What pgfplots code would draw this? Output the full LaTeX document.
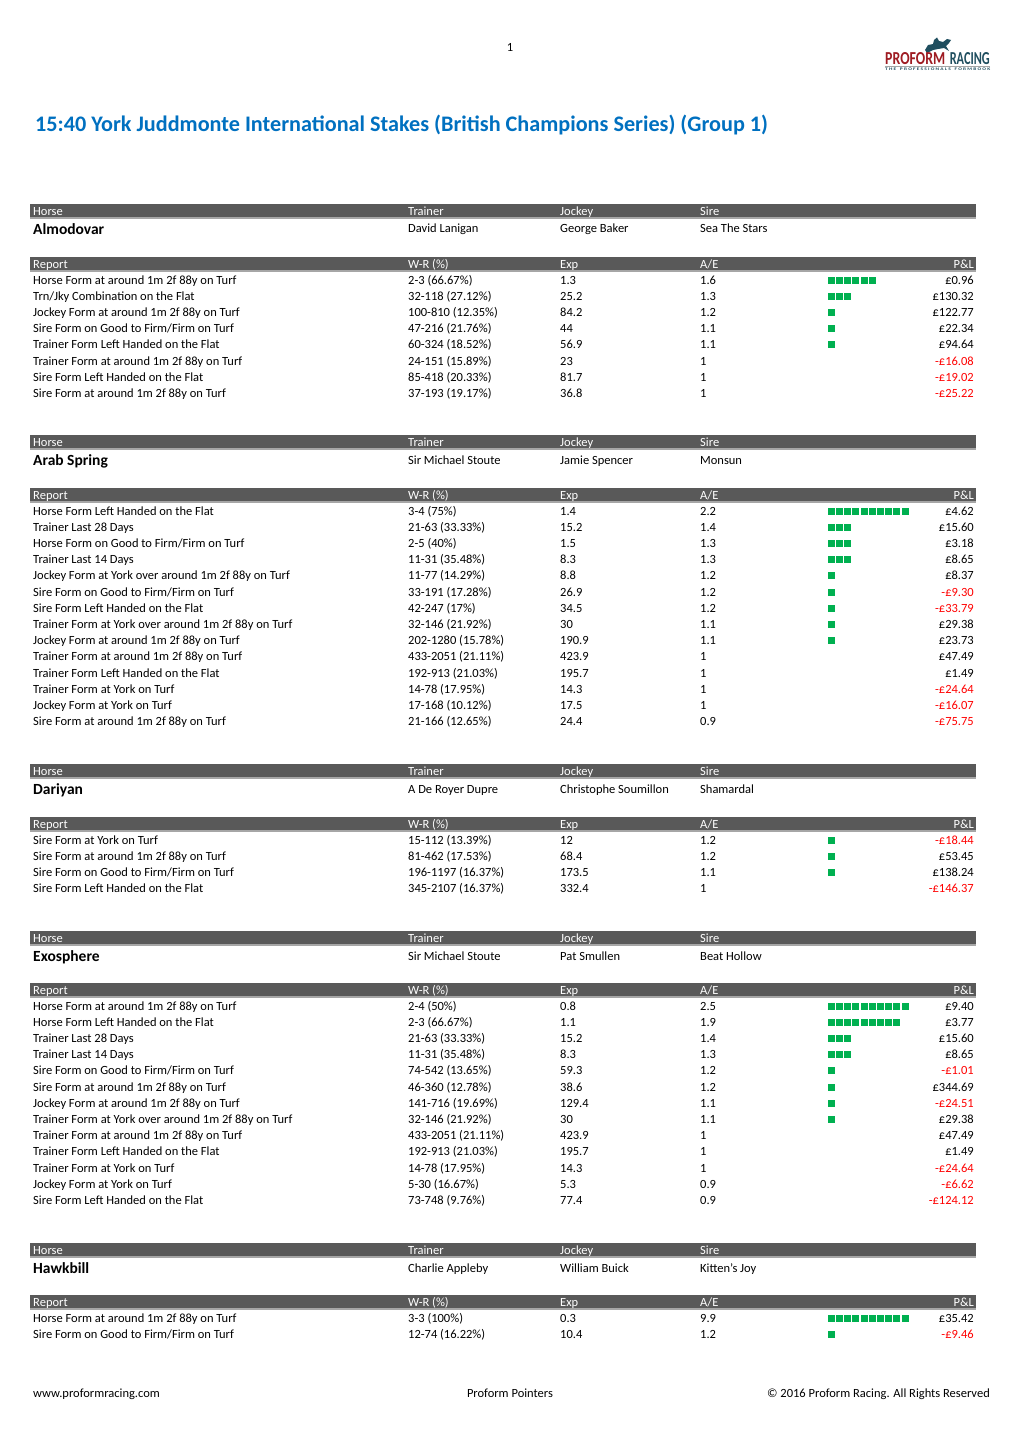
\documentclass[border=0pt]{standalone}
\usepackage{pgfplots}
\pgfplotsset{compat=1.18}
\usepackage{pgfplotstable}
\usepackage{fontspec}
\setmainfont{Carlito}
\definecolor{hdr}{HTML}{595959}
\definecolor{hline}{HTML}{A6A6A6}
\definecolor{grn}{HTML}{00B050}
\definecolor{neg}{HTML}{FF0000}
\definecolor{ttl}{HTML}{0070C0}
\definecolor{pfred}{HTML}{9E1B22}
\definecolor{pfteal}{HTML}{1F4E5F}
\newcommand{\fs}{\fontsize{12.5}{14}\selectfont}

% green squares of the A/E column: k = position in the row, y = row
\pgfplotstableread[row sep=\\]{
k y\\
1 280\\ 2 280\\ 3 280\\ 4 280\\ 5 280\\ 6 280\\
1 296.2\\ 2 296.2\\ 3 296.2\\
1 312.4\\ 1 328.6\\ 1 344.8\\
1 511\\ 2 511\\ 3 511\\ 4 511\\ 5 511\\ 6 511\\ 7 511\\ 8 511\\ 9 511\\ 10 511\\
1 527.2\\ 2 527.2\\ 3 527.2\\
1 543.4\\ 2 543.4\\ 3 543.4\\
1 559.6\\ 2 559.6\\ 3 559.6\\
1 575.8\\ 1 592\\ 1 608.2\\ 1 624.4\\ 1 640.6\\
1 840\\ 1 856.2\\ 1 872.4\\
1 1006\\ 2 1006\\ 3 1006\\ 4 1006\\ 5 1006\\ 6 1006\\ 7 1006\\ 8 1006\\ 9 1006\\ 10 1006\\
1 1022.2\\ 2 1022.2\\ 3 1022.2\\ 4 1022.2\\ 5 1022.2\\ 6 1022.2\\ 7 1022.2\\ 8 1022.2\\ 9 1022.2\\
1 1038.4\\ 2 1038.4\\ 3 1038.4\\
1 1054.6\\ 2 1054.6\\ 3 1054.6\\
1 1070.8\\ 1 1087\\ 1 1103.2\\ 1 1119.4\\
1 1318\\ 2 1318\\ 3 1318\\ 4 1318\\ 5 1318\\ 6 1318\\ 7 1318\\ 8 1318\\ 9 1318\\ 10 1318\\
1 1334.2\\
}\squares

% y, report, W-R, Exp, A/E, P&L, colour
\newcommand{\rw}[7]{%
  \node[txt] at (axis cs:33,#1) {#2};
  \node[txt] at (axis cs:408,#1) {#3};
  \node[txt] at (axis cs:560,#1) {#4};
  \node[txt] at (axis cs:700,#1) {#5};
  \node[txtr,text=#7] at (axis cs:974,#1) {#6};
}
% header bar at y
\newcommand{\hdrbar}[1]{%
  \fill[hdr] (axis cs:30,#1-7) rectangle (axis cs:976,#1+7);
  \draw[hline,line width=1.2pt] (axis cs:30,#1+7) -- (axis cs:976,#1+7);
}
% horse block: bar y, name, trainer, jockey, sire
\newcommand{\horse}[5]{%
  \hdrbar{#1}
  \node[htxt] at (axis cs:33,#1) {Horse};
  \node[htxt] at (axis cs:408,#1) {Trainer};
  \node[htxt] at (axis cs:560,#1) {Jockey};
  \node[htxt] at (axis cs:700,#1) {Sire};
  \node[name] at (axis cs:33,#1+18) {#2};
  \node[txt] at (axis cs:408,#1+18) {#3};
  \node[txt] at (axis cs:560,#1+18) {#4};
  \node[txt] at (axis cs:700,#1+18) {#5};
}
\newcommand{\report}[1]{%
  \hdrbar{#1}
  \node[htxt] at (axis cs:33,#1) {Report};
  \node[htxt] at (axis cs:408,#1) {W-R (\%)};
  \node[htxt] at (axis cs:560,#1) {Exp};
  \node[htxt] at (axis cs:700,#1) {A/E};
  \node[htxt,anchor=base east] at (axis cs:974,#1) {P\&L};
}

\begin{document}
\begin{tikzpicture}[
  txt/.style={anchor=base west, inner sep=0pt, yshift=-4pt, font=\fs},
  txtr/.style={txt, anchor=base east},
  htxt/.style={txt, text=white},
  name/.style={anchor=base west, inner sep=0pt, yshift=-5pt, font=\fontsize{15.5}{17}\selectfont\bfseries},
]
\begin{axis}[
  scale only axis, width=1020pt, height=1442pt,
  xmin=0, xmax=1020, ymin=0, ymax=1442, y dir=reverse,
  hide axis, clip=false,
]
\path (axis cs:0,0) rectangle (axis cs:1020,1442);

% page number and logo
\node[txt,anchor=base] at (axis cs:510,48) {1};
\fill[pfteal] (axis cs:925,50) -- (axis cs:928,45) -- (axis cs:933,44) -- (axis cs:934,40)
  -- (axis cs:937,37.5) -- (axis cs:939,41) -- (axis cs:943,42) -- (axis cs:947,39)
  -- (axis cs:951,40) -- (axis cs:949,43) -- (axis cs:946,46) -- (axis cs:949,51)
  -- (axis cs:944,48) -- (axis cs:938,49) -- (axis cs:933,50) -- (axis cs:927,53) -- cycle;
\node[anchor=south west,inner sep=0pt,text=pfred] at (axis cs:885,64.5) {\resizebox{60pt}{12pt}{\bfseries PROFORM}};
\node[anchor=south east,inner sep=0pt,text=pfteal] at (axis cs:990,64.5) {\resizebox{40pt}{12pt}{\bfseries RACING}};
\draw[hline,line width=0.6pt] (axis cs:885,66.5) -- (axis cs:990,66.5);
\node[anchor=north west,inner sep=0pt,text=pfteal] at (axis cs:885,68) {\resizebox{105pt}{2.6pt}{\bfseries T H E \ \ P R O F E S S I O N A L S \ \ F O R M B O O K}};

% title
\node[anchor=base west,inner sep=0pt,text=ttl,font=\fontsize{22.2}{26}\selectfont\bfseries] at (axis cs:35,132)
  {15:40 York Juddmonte International Stakes (British Champions Series) (Group 1)};

% Almodovar
\horse{211}{Almodovar}{David Lanigan}{George Baker}{Sea The Stars}
\report{264}
\rw{280}{Horse Form at around 1m 2f 88y on Turf}{2-3 (66.67\%)}{1.3}{1.6}{£0.96}{black}
\rw{296.2}{Trn/Jky Combination on the Flat}{32-118 (27.12\%)}{25.2}{1.3}{£130.32}{black}
\rw{312.4}{Jockey Form at around 1m 2f 88y on Turf}{100-810 (12.35\%)}{84.2}{1.2}{£122.77}{black}
\rw{328.6}{Sire Form on Good to Firm/Firm on Turf}{47-216 (21.76\%)}{44}{1.1}{£22.34}{black}
\rw{344.8}{Trainer Form Left Handed on the Flat}{60-324 (18.52\%)}{56.9}{1.1}{£94.64}{black}
\rw{361}{Trainer Form at around 1m 2f 88y on Turf}{24-151 (15.89\%)}{23}{1}{-£16.08}{neg}
\rw{377.2}{Sire Form Left Handed on the Flat}{85-418 (20.33\%)}{81.7}{1}{-£19.02}{neg}
\rw{393.4}{Sire Form at around 1m 2f 88y on Turf}{37-193 (19.17\%)}{36.8}{1}{-£25.22}{neg}

% Arab Spring
\horse{442}{Arab Spring}{Sir Michael Stoute}{Jamie Spencer}{Monsun}
\report{495}
\rw{511}{Horse Form Left Handed on the Flat}{3-4 (75\%)}{1.4}{2.2}{£4.62}{black}
\rw{527.2}{Trainer Last 28 Days}{21-63 (33.33\%)}{15.2}{1.4}{£15.60}{black}
\rw{543.4}{Horse Form on Good to Firm/Firm on Turf}{2-5 (40\%)}{1.5}{1.3}{£3.18}{black}
\rw{559.6}{Trainer Last 14 Days}{11-31 (35.48\%)}{8.3}{1.3}{£8.65}{black}
\rw{575.8}{Jockey Form at York over around 1m 2f 88y on Turf}{11-77 (14.29\%)}{8.8}{1.2}{£8.37}{black}
\rw{592}{Sire Form on Good to Firm/Firm on Turf}{33-191 (17.28\%)}{26.9}{1.2}{-£9.30}{neg}
\rw{608.2}{Sire Form Left Handed on the Flat}{42-247 (17\%)}{34.5}{1.2}{-£33.79}{neg}
\rw{624.4}{Trainer Form at York over around 1m 2f 88y on Turf}{32-146 (21.92\%)}{30}{1.1}{£29.38}{black}
\rw{640.6}{Jockey Form at around 1m 2f 88y on Turf}{202-1280 (15.78\%)}{190.9}{1.1}{£23.73}{black}
\rw{656.8}{Trainer Form at around 1m 2f 88y on Turf}{433-2051 (21.11\%)}{423.9}{1}{£47.49}{black}
\rw{673}{Trainer Form Left Handed on the Flat}{192-913 (21.03\%)}{195.7}{1}{£1.49}{black}
\rw{689.2}{Trainer Form at York on Turf}{14-78 (17.95\%)}{14.3}{1}{-£24.64}{neg}
\rw{705.4}{Jockey Form at York on Turf}{17-168 (10.12\%)}{17.5}{1}{-£16.07}{neg}
\rw{721.6}{Sire Form at around 1m 2f 88y on Turf}{21-166 (12.65\%)}{24.4}{0.9}{-£75.75}{neg}

% Dariyan
\horse{771}{Dariyan}{A De Royer Dupre}{Christophe Soumillon}{Shamardal}
\report{824}
\rw{840}{Sire Form at York on Turf}{15-112 (13.39\%)}{12}{1.2}{-£18.44}{neg}
\rw{856.2}{Sire Form at around 1m 2f 88y on Turf}{81-462 (17.53\%)}{68.4}{1.2}{£53.45}{black}
\rw{872.4}{Sire Form on Good to Firm/Firm on Turf}{196-1197 (16.37\%)}{173.5}{1.1}{£138.24}{black}
\rw{888.6}{Sire Form Left Handed on the Flat}{345-2107 (16.37\%)}{332.4}{1}{-£146.37}{neg}

% Exosphere
\horse{938}{Exosphere}{Sir Michael Stoute}{Pat Smullen}{Beat Hollow}
\report{990}
\rw{1006}{Horse Form at around 1m 2f 88y on Turf}{2-4 (50\%)}{0.8}{2.5}{£9.40}{black}
\rw{1022.2}{Horse Form Left Handed on the Flat}{2-3 (66.67\%)}{1.1}{1.9}{£3.77}{black}
\rw{1038.4}{Trainer Last 28 Days}{21-63 (33.33\%)}{15.2}{1.4}{£15.60}{black}
\rw{1054.6}{Trainer Last 14 Days}{11-31 (35.48\%)}{8.3}{1.3}{£8.65}{black}
\rw{1070.8}{Sire Form on Good to Firm/Firm on Turf}{74-542 (13.65\%)}{59.3}{1.2}{-£1.01}{neg}
\rw{1087}{Sire Form at around 1m 2f 88y on Turf}{46-360 (12.78\%)}{38.6}{1.2}{£344.69}{black}
\rw{1103.2}{Jockey Form at around 1m 2f 88y on Turf}{141-716 (19.69\%)}{129.4}{1.1}{-£24.51}{neg}
\rw{1119.4}{Trainer Form at York over around 1m 2f 88y on Turf}{32-146 (21.92\%)}{30}{1.1}{£29.38}{black}
\rw{1135.6}{Trainer Form at around 1m 2f 88y on Turf}{433-2051 (21.11\%)}{423.9}{1}{£47.49}{black}
\rw{1151.8}{Trainer Form Left Handed on the Flat}{192-913 (21.03\%)}{195.7}{1}{£1.49}{black}
\rw{1168}{Trainer Form at York on Turf}{14-78 (17.95\%)}{14.3}{1}{-£24.64}{neg}
\rw{1184.2}{Jockey Form at York on Turf}{5-30 (16.67\%)}{5.3}{0.9}{-£6.62}{neg}
\rw{1200.4}{Sire Form Left Handed on the Flat}{73-748 (9.76\%)}{77.4}{0.9}{-£124.12}{neg}

% Hawkbill
\horse{1250}{Hawkbill}{Charlie Appleby}{William Buick}{Kitten's Joy}
\report{1302}
\rw{1318}{Horse Form at around 1m 2f 88y on Turf}{3-3 (100\%)}{0.3}{9.9}{£35.42}{black}
\rw{1334.2}{Sire Form on Good to Firm/Firm on Turf}{12-74 (16.22\%)}{10.4}{1.2}{-£9.46}{neg}

% A/E squares
\addplot[only marks, mark=square*, mark size=3pt, color=grn, mark options={line width=0pt}]
  table[x expr=823+8.2*\thisrow{k}, y=y] {\squares};

% footer
\node[txt] at (axis cs:33,1393) {www.proformracing.com};
\node[txt,anchor=base] at (axis cs:510,1393) {Proform Pointers};
\node[txtr] at (axis cs:990,1393) {© 2016 Proform Racing. All Rights Reserved};
\end{axis}
\end{tikzpicture}
\end{document}
